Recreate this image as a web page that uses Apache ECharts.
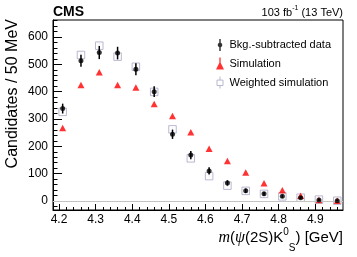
<!DOCTYPE html>
<html><head><meta charset="utf-8">
<script src="https://cdn.jsdelivr.net/npm/echarts@6/dist/echarts.min.js"></script>
<style>html,body{margin:0;padding:0;background:#fff}#c{width:357px;height:257px}</style>
</head><body><div id="c"></div>
<script>
const mass = [4.21,4.26,4.31,4.36,4.41,4.46,4.51,4.56,4.61,4.66,4.71,4.76,4.81,4.86,4.91,4.96];
const dataVals = [338,513,543,541,482,400,244,168,110,66,37,26,17,12,4,1];
const dataErr  = [18,22,24,23,22,20,17,15,13,10,8,7,6,5,3,2];
const simVals  = [267,424,471,424,415,355,311,251,191,146,104,65,39,19,4,1];
const wsimVals = [326,534,568,528,491,399,262,156,91,56,37,26,17,12,5,1];
const wsimErr  = [8,10,10,10,9,9,7,6,5,4,3,3,2,2,1,1];
const xTicks = [4.2,4.3,4.4,4.5,4.6,4.7,4.8,4.9];
const xMinor = [4.2,4.22,4.24,4.26,4.28,4.3,4.32,4.34,4.36,4.38,4.4,4.42,4.44,4.46,4.48,4.5,4.52,4.54,4.56,4.58,4.6,4.62,4.64,4.66,4.68,4.7,4.72,4.74,4.76,4.78,4.8,4.82,4.84,4.86,4.88,4.9,4.92,4.94,4.96];
const yTicks = [0,100,200,300,400,500,600];
const yMinor = [-20,0,20,40,60,80,100,120,140,160,180,200,220,240,260,280,300,320,340,360,380,400,420,440,460,480,500,520,540,560,580,600,620,640,660];

const FONT = 'Liberation Sans';
const WCOL = '#a8a8c6';
const chart = echarts.init(document.getElementById('c'), null, {renderer:'canvas'});

function errBar(vals, errs, color, w) {
  return {
    type:'custom', xAxisIndex:0, yAxisIndex:0, silent:true,
    data: mass.map((m,i)=>[m, vals[i], errs[i]]),
    renderItem: function(params, api){
      const x = api.value(0), y = api.value(1), e = api.value(2);
      const p1 = api.coord([x, y-e]), p2 = api.coord([x, y+e]);
      return {type:'line', shape:{x1:p1[0],y1:p1[1],x2:p2[0],y2:p2[1]}, style:{stroke:color, lineWidth:w}};
    }
  };
}

const xr = {min:4.1836, max:4.9757};
const yr = {min:-33, max:662};
const N = {fontWeight:'normal', color:'#000'};
chart.setOption({
  animation:false,
  textStyle:{fontFamily:FONT},
  grid:{left:53, right:14, top:20, bottom:47, show:true, borderColor:'#000', borderWidth:1, backgroundColor:'transparent'},
  title:[
    {text:'CMS', left:53, top:5, padding:0, textStyle:{fontFamily:FONT, fontWeight:'bold', fontSize:14, color:'#000'}},
    {text:'{a|103 fb}{s|-1}{a| (13 TeV)}', right:14, top:5, padding:0,
      textStyle:{fontWeight:'normal', rich:{a:Object.assign({fontFamily:FONT, fontSize:11, verticalAlign:'bottom', lineHeight:13}, N), s:Object.assign({fontFamily:FONT, fontSize:7, verticalAlign:'top', lineHeight:13}, N)}}},
    {text:'{i|m}{a|(}{i|ψ}{a|(2S)K}{s|0}{b|S}{a|) [GeV]}', right:14, top:227, padding:0,
      textStyle:{fontWeight:'normal', rich:{
        a:Object.assign({fontFamily:FONT, fontSize:15, lineHeight:22, verticalAlign:'middle'}, N),
        i:Object.assign({fontFamily:'Liberation Serif', fontStyle:'italic', fontSize:16, lineHeight:22, verticalAlign:'middle'}, N),
        s:Object.assign({fontFamily:FONT, fontSize:10, lineHeight:22, verticalAlign:'top'}, N),
        b:Object.assign({fontFamily:FONT, fontSize:10, lineHeight:22, verticalAlign:'bottom', padding:[0,0,-4,0]}, N)
      }}}
  ],
  graphic:[
    {type:'text', x:5, y:19, rotation:Math.PI/2,
      style:{text:'Candidates / 50 MeV', fontFamily:FONT, fontSize:16, fill:'#000', align:'right', verticalAlign:'top'}}
  ],
  legend:{
    orient:'vertical', left:216, top:39, itemWidth:9, itemHeight:12, itemGap:6.5, padding:0,
    textStyle:{fontFamily:FONT, fontSize:11, color:'#000'},
    data:[
      {name:'Bkg.-subtracted data', icon:'path://M4.4,0H5.6V3.2A1.9,1.9,0,0,1,5.6,6.8V10H4.4V6.8A1.9,1.9,0,0,1,4.4,3.2Z', itemStyle:{color:'#000'}},
      {name:'Simulation', icon:'path://M4.5,0H5.5V4L8,9H2L4.5,4Z', itemStyle:{color:'#ff0000'}},
      {name:'Weighted simulation', icon:'path://M5,0V3M2.5,3H7.5V7.5H2.5ZM5,7.5V10', itemStyle:{color:'transparent', borderColor:WCOL, borderWidth:1}}
    ]
  },
  xAxis:[
    Object.assign({type:'value', position:'bottom',
      axisLine:{show:true, onZero:false, lineStyle:{color:'#000', width:1}},
      axisTick:{show:true, inside:true, length:6, customValues:xTicks, lineStyle:{color:'#000'}},
      axisLabel:{show:true, customValues:xTicks, margin:4, fontSize:12, color:'#000', fontFamily:FONT, formatter:v=>v.toFixed(1)},
      splitLine:{show:false}}, xr),
    Object.assign({type:'value', position:'bottom',
      axisLine:{show:false, onZero:false},
      axisTick:{show:true, inside:true, length:3, customValues:xMinor, lineStyle:{color:'#000'}},
      axisLabel:{show:false}, splitLine:{show:false}}, xr)
  ],
  yAxis:[
    Object.assign({type:'value', position:'left',
      axisLine:{show:true, onZero:false, lineStyle:{color:'#000', width:1}},
      axisTick:{show:true, inside:true, length:9, customValues:yTicks, lineStyle:{color:'#000'}},
      axisLabel:{show:true, customValues:yTicks, margin:5, fontSize:12, color:'#000', fontFamily:FONT},
      splitLine:{show:false}}, yr),
    Object.assign({type:'value', position:'left',
      axisLine:{show:false, onZero:false},
      axisTick:{show:true, inside:true, length:4.5, customValues:yMinor, lineStyle:{color:'#000'}},
      axisLabel:{show:false}, splitLine:{show:false}}, yr)
  ],
  series:[
    {name:'zero', type:'line', xAxisIndex:0, yAxisIndex:0, data:[], silent:true,
      markLine:{silent:true, symbol:'none', label:{show:false}, lineStyle:{color:'#c4c4c4', type:'solid', width:1}, data:[{yAxis:0}]}},
    errBar(wsimVals, wsimErr, WCOL, 1),
    {name:'Weighted simulation', type:'scatter', xAxisIndex:0, yAxisIndex:0, symbol:'rect', symbolSize:7.5,
      itemStyle:{color:'#fff', borderColor:WCOL, borderWidth:1}, data:mass.map((m,i)=>[m, wsimVals[i]]), z:2},
    {name:'Simulation', type:'scatter', xAxisIndex:0, yAxisIndex:0, symbol:'triangle', symbolSize:[7,6.5],
      itemStyle:{color:'#ff0000'}, data:mass.map((m,i)=>[m, simVals[i]]), z:3},
    Object.assign(errBar(dataVals, dataErr, '#000', 1.5), {z:4}),
    {name:'Bkg.-subtracted data', type:'scatter', xAxisIndex:0, yAxisIndex:0, symbol:'circle', symbolSize:5,
      itemStyle:{color:'#000'}, data:mass.map((m,i)=>[m, dataVals[i]]), z:5}
  ]
});
</script></body></html>
